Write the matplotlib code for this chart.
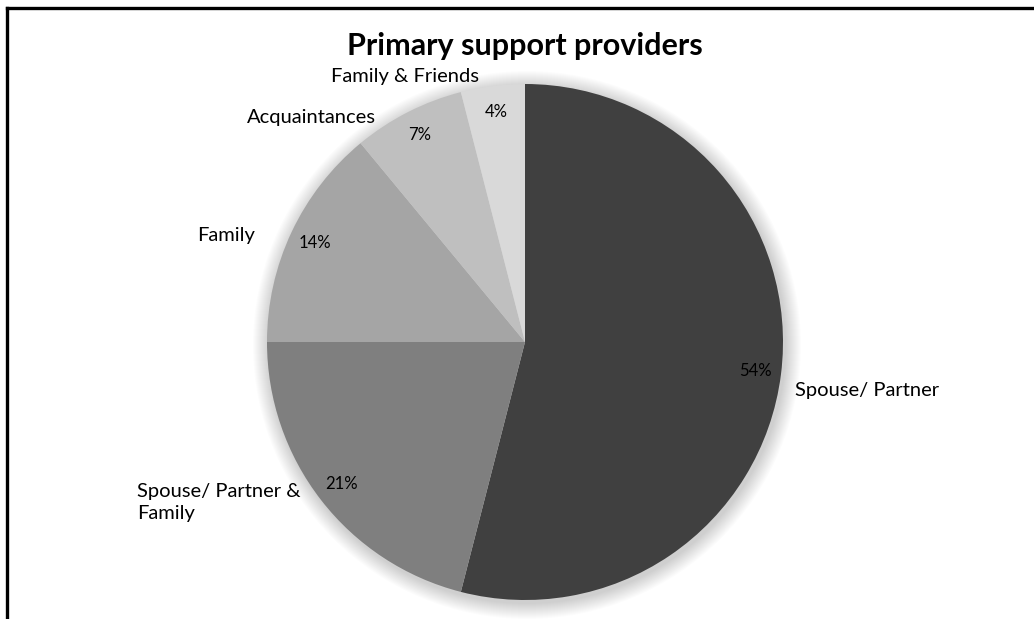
import numpy as np
import matplotlib
matplotlib.use("Agg")
import matplotlib.pyplot as plt
from matplotlib.patches import Circle
from matplotlib.lines import Line2D

plt.rcParams['font.family'] = ['Lato', 'DejaVu Sans']

categories = ["Spouse/ Partner", "Spouse/ Partner &\nFamily", "Family",
              "Acquaintances", "Family & Friends"]
shares = [54, 21, 14, 7, 4]
colors = ["#404040", "#7f7f7f", "#a5a5a5", "#bfbfbf", "#d9d9d9"]

# outer label placement: (radius factor, angle nudge in degrees, alignment)
label_layout = [(1.33, -1.0, "left"), (1.38, -11.0, "left"),
                (1.23, 5.5, "center"), (1.20, 16.5, "center"),
                (1.13, 17.0, "center")]

W, H = 1034, 619
fig = plt.figure(figsize=(W / 100, H / 100), dpi=100)
ax = fig.add_axes([0, 0, 1, 1])

cx, cy, R = 525, H - 342, 258

# soft drop shadow behind the pie
for i in range(16):
    ax.add_patch(Circle((cx + 2, cy - 3), R + 16 - i, color="black",
                        alpha=0.011, lw=0, zorder=1))

wedges, _, autotexts = ax.pie(
    shares, colors=colors, startangle=90, counterclock=False,
    center=(cx, cy), radius=R, frame=True,
    autopct=lambda p: f"{p:.0f}%", pctdistance=0.9,
    wedgeprops=dict(linewidth=0, zorder=2),
    textprops=dict(fontsize=12, color="black"))
ax.set_xlim(0, W)
ax.set_ylim(0, H)
ax.set_aspect("equal")
ax.axis("off")

for w, name, (rf, nudge, ha) in zip(wedges, categories, label_layout):
    mid = np.deg2rad((w.theta1 + w.theta2) / 2 + nudge)
    x = cx + rf * R * np.cos(mid)
    y = cy + rf * R * np.sin(mid)
    if ha == "left":
        x -= 70
    ax.text(x, y, name, fontsize=14.5, ha=ha, va="center",
            multialignment="left", linespacing=1.3)

ax.text(cx, H - 46, "Primary support providers", fontsize=22,
        fontweight="bold", ha="center", va="center")

# frame lines along the top and left edge
fig.add_artist(Line2D([7 / W, 7 / W], [0, 1 - 8 / H], color="black",
                      lw=2.4, transform=fig.transFigure))
fig.add_artist(Line2D([7 / W, 1], [1 - 8 / H, 1 - 8 / H], color="black",
                      lw=2.4, transform=fig.transFigure))

fig.savefig("out.png", dpi=100)
